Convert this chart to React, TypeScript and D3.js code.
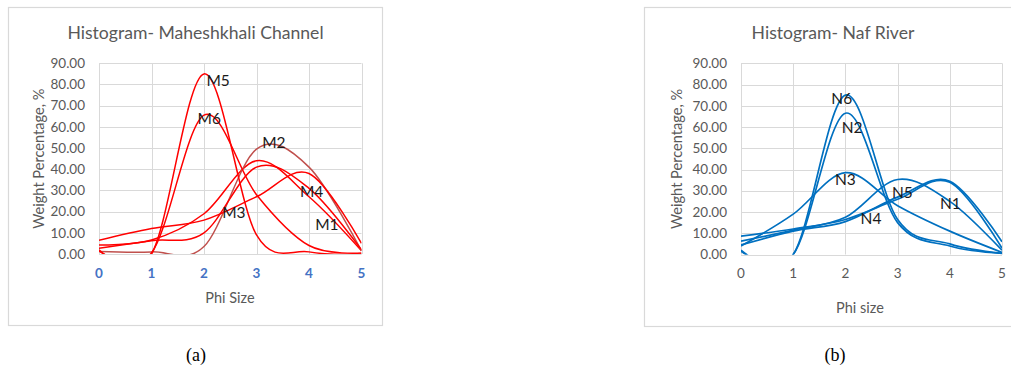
import React from 'react';
import * as d3 from 'd3';

// Grain-size classes (phi) shared by every sample
const phi = [0, 1, 2, 3, 4, 5];

// Maheshkhali Channel samples, weight % per phi class
const M1 = [4.2, 6.6, 19, 44, 27, 1.5];
const M2 = [1.2, 1.0, 3.5, 49.5, 41, 1.5];
const M3 = [6.5, 12, 16, 27, 38, 5];
const M4 = [2.7, 6.3, 10, 41, 31, 2];
const M5 = [2, 0, 85, 9, 1, 0];
const M6 = [1.5, 0.5, 65.5, 28, 4, 0.5];

// Naf River samples, weight % per phi class
const N1 = [4.5, 11, 15.5, 27, 34.5, 6];
const N2 = [1.5, 0, 66.5, 15, 4, 0.5];
const N3 = [4, 19, 38.5, 23, 11, 1];
const N4 = [8.6, 12, 16.5, 26, 34, 3];
const N5 = [6.3, 11.5, 17.5, 35.3, 25, 2];
const N6 = [2, 0, 75, 16.5, 5, 0.5];

// Sample name labels, placed in (phi, %) coordinates
const mLabels = ['M1', 'M2', 'M3', 'M4', 'M5', 'M6'];
const mLabelPhi = [4.34, 3.33, 2.57, 4.05, 2.27, 2.1];
const mLabelPct = [13.7, 52.5, 19.7, 29.4, 82, 64];

const nLabels = ['N1', 'N2', 'N3', 'N4', 'N5', 'N6'];
const nLabelPhi = [4.01, 2.13, 2.0, 2.49, 3.09, 1.93];
const nLabelPct = [23.8, 59.7, 35.5, 16.7, 29.1, 73.5];

const yTicks = [0, 10, 20, 30, 40, 50, 60, 70, 80, 90];
const xTicks = [0, 1, 2, 3, 4, 5];

const FONT = 'Lato, "Open Sans", sans-serif';
const GRAY = '#595959';
const GRID = '#D9D9D9';

type Series = { name: string; values: number[]; color: string };

type ChartProps = {
  id: string;
  frame: { x0: number; y0: number; x1: number; y1: number };
  plot: { left: number; right: number; top: number; bottom: number };
  title: string;
  titleX: number;
  xTitle: string;
  xTitleX: number;
  xTitleY: number;
  yTitleX: number;
  series: Series[];
  labels: string[];
  labelPhi: number[];
  labelPct: number[];
  xTickBold: boolean;
  xTickColor: string;
  lineWidth: number;
};

function Chart(p: ChartProps) {
  const x = d3.scaleLinear().domain([0, 5]).range([p.plot.left, p.plot.right]);
  const y = d3.scaleLinear().domain([0, 90]).range([p.plot.bottom, p.plot.top]);
  const line = d3
    .line<number>()
    .x((_, i) => x(phi[i]))
    .y((d) => y(d))
    .curve(d3.curveCardinal.tension(0));
  const clipId = `clip-${p.id}`;
  const midY = (p.plot.top + p.plot.bottom) / 2;

  return (
    <g>
      <rect
        x={p.frame.x0 + 0.5}
        y={p.frame.y0 + 0.5}
        width={p.frame.x1 - p.frame.x0}
        height={p.frame.y1 - p.frame.y0}
        fill="#fff"
        stroke={GRID}
        strokeWidth={1.2}
      />
      <text
        x={p.titleX}
        y={33}
        dy="0.35em"
        textAnchor="middle"
        fontFamily={FONT}
        fontSize={17.6}
        fill={GRAY}
      >
        {p.title}
      </text>
      <defs>
        <clipPath id={clipId}>
          <rect
            x={p.plot.left}
            y={p.plot.top}
            width={p.plot.right - p.plot.left}
            height={p.plot.bottom - p.plot.top}
          />
        </clipPath>
      </defs>
      {yTicks.map((t) => (
        <line
          key={`h${t}`}
          x1={p.plot.left}
          x2={p.plot.right}
          y1={Math.round(y(t)) + 0.5}
          y2={Math.round(y(t)) + 0.5}
          stroke={GRID}
          strokeWidth={1}
        />
      ))}
      {xTicks.map((t) => (
        <line
          key={`v${t}`}
          x1={Math.round(x(t)) + 0.5}
          x2={Math.round(x(t)) + 0.5}
          y1={p.plot.top}
          y2={p.plot.bottom}
          stroke={GRID}
          strokeWidth={1}
        />
      ))}
      {yTicks.map((t) => (
        <text
          key={`yl${t}`}
          x={p.plot.left - 14}
          y={y(t)}
          dy="0.35em"
          textAnchor="end"
          fontFamily={FONT}
          fontSize={13.5}
          fill={GRAY}
        >
          {t.toFixed(2)}
        </text>
      ))}
      {xTicks.map((t) => (
        <text
          key={`xl${t}`}
          x={x(t)}
          y={p.plot.bottom + 19}
          dy="0.35em"
          textAnchor="middle"
          fontFamily={FONT}
          fontSize={13.5}
          fontWeight={p.xTickBold ? 700 : 400}
          fill={p.xTickColor}
        >
          {t}
        </text>
      ))}
      <g clipPath={`url(#${clipId})`}>
        {p.series.map((s) => (
          <path
            key={s.name}
            d={line(s.values) || ''}
            fill="none"
            stroke={s.color}
            strokeWidth={p.lineWidth}
          />
        ))}
      </g>
      {p.labels.map((l, i) => (
        <text
          key={l}
          x={x(p.labelPhi[i])}
          y={y(p.labelPct[i])}
          dy="0.35em"
          textAnchor="middle"
          fontFamily={FONT}
          fontSize={15.5}
          fill="#1a1a1a"
        >
          {l}
        </text>
      ))}
      <text
        transform={`translate(${p.yTitleX},${midY}) rotate(-90)`}
        dy="0.35em"
        textAnchor="middle"
        fontFamily={FONT}
        fontSize={14.6}
        fill={GRAY}
      >
        Weight Percentage, %
      </text>
      <text
        x={p.xTitleX}
        y={p.xTitleY}
        dy="0.35em"
        textAnchor="middle"
        fontFamily={FONT}
        fontSize={14.5}
        fill={GRAY}
      >
        {p.xTitle}
      </text>
    </g>
  );
}

export default function App() {
  const red = '#FF0000';
  const blue = '#0070C0';
  const mSeries: Series[] = [
    { name: 'M1', values: M1, color: red },
    { name: 'M2', values: M2, color: '#C0504D' },
    { name: 'M3', values: M3, color: red },
    { name: 'M4', values: M4, color: red },
    { name: 'M5', values: M5, color: red },
    { name: 'M6', values: M6, color: red },
  ];
  const nSeries: Series[] = [
    { name: 'N1', values: N1, color: blue },
    { name: 'N2', values: N2, color: blue },
    { name: 'N3', values: N3, color: blue },
    { name: 'N4', values: N4, color: blue },
    { name: 'N5', values: N5, color: blue },
    { name: 'N6', values: N6, color: blue },
  ];

  return (
    <svg
      width={1011}
      height={367}
      style={{ position: 'absolute', left: 0, top: 0, background: '#fff' }}
    >
      <rect width={1011} height={367} fill="#fff" />
      <Chart
        id="m"
        frame={{ x0: 8, y0: 7, x1: 382, y1: 325 }}
        plot={{ left: 99, right: 361.5, top: 63.3, bottom: 254 }}
        title="Histogram- Maheshkhali Channel"
        titleX={195.5}
        xTitle="Phi Size"
        xTitleX={230}
        xTitleY={298}
        yTitleX={39}
        series={mSeries}
        labels={mLabels}
        labelPhi={mLabelPhi}
        labelPct={mLabelPct}
        xTickBold={true}
        xTickColor="#4472C4"
        lineWidth={1.5}
      />
      <Chart
        id="n"
        frame={{ x0: 644, y0: 7, x1: 1020, y1: 326 }}
        plot={{ left: 741, right: 1002, top: 63.3, bottom: 254.5 }}
        title="Histogram- Naf River"
        titleX={833}
        xTitle="Phi size"
        xTitleX={860}
        xTitleY={308}
        yTitleX={677}
        series={nSeries}
        labels={nLabels}
        labelPhi={nLabelPhi}
        labelPct={nLabelPct}
        xTickBold={false}
        xTickColor={GRAY}
        lineWidth={1.7}
      />
      <text x={196} y={355} dy="0.35em" textAnchor="middle" fontFamily='"Liberation Serif", "Times New Roman", serif' fontSize={18} fill="#000">
        (a)
      </text>
      <text x={835} y={355} dy="0.35em" textAnchor="middle" fontFamily='"Liberation Serif", "Times New Roman", serif' fontSize={18} fill="#000">
        (b)
      </text>
    </svg>
  );
}
